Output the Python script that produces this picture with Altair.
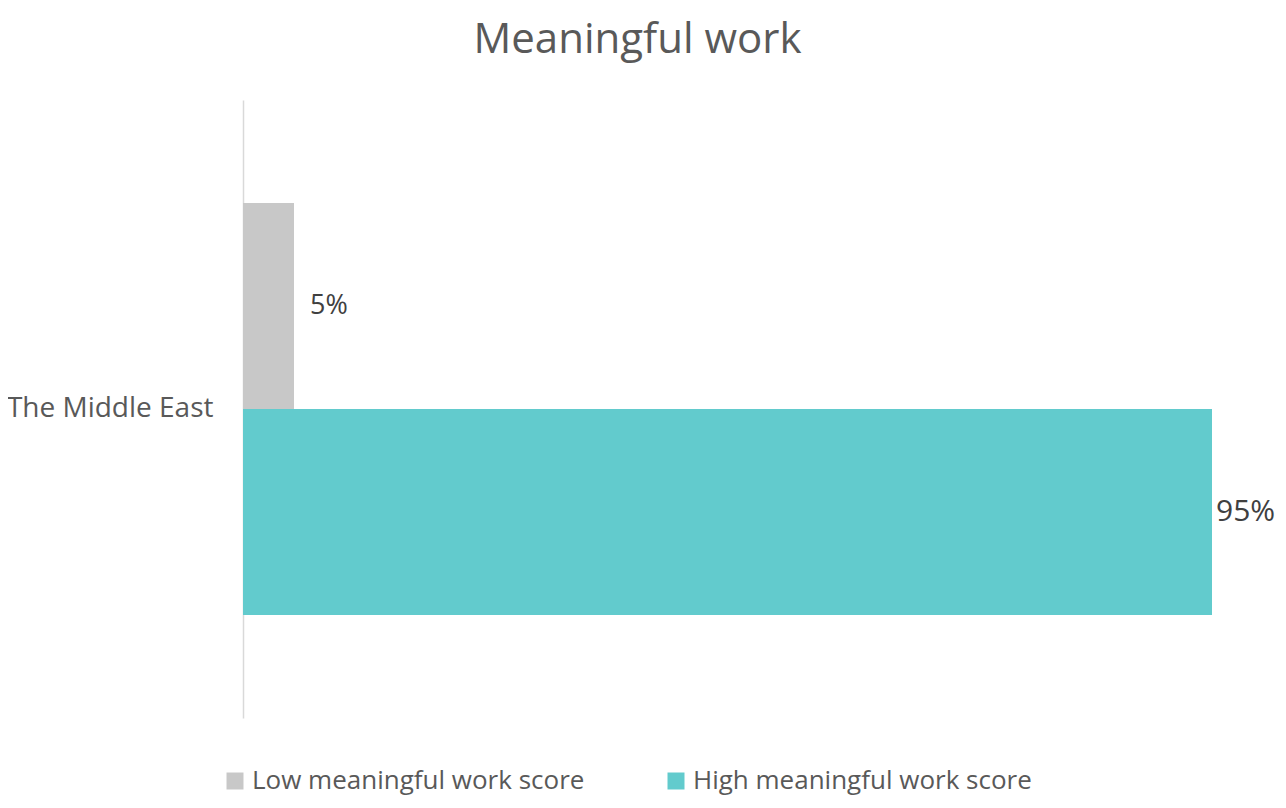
import altair as alt
import pandas as pd

regions = ["The Middle East", "The Middle East"]
series = ["Low meaningful work score", "High meaningful work score"]
values = [5, 95]
labels = ["5%", "95%"]
colors = ["#c8c8c8", "#62cbcd"]

df = pd.DataFrame({"region": regions, "series": series, "value": values,
                   "label": labels})

y = alt.Y("region:N", title=None,
          scale=alt.Scale(paddingInner=0, paddingOuter=0.25),
          axis=alt.Axis(domainColor="#d9d9d9", domainWidth=1.5, ticks=False,
                        labelFontSize=28, labelColor="#595959", labelPadding=30,
                        labelFont="Open Sans", labelFontWeight="normal", grid=False,
                        labelLimit=400))
yoff = alt.YOffset("series:N", sort=series, scale=alt.Scale(paddingInner=0, paddingOuter=0))
x = alt.X("value:Q", scale=alt.Scale(domain=[0, 95]), axis=None)

bars = alt.Chart(df).mark_bar().encode(
    y=y, yOffset=yoff, x=x,
    color=alt.Color("series:N", sort=series,
                    scale=alt.Scale(domain=series, range=colors),
                    legend=alt.Legend(title=None, orient="none", direction="horizontal",
                                      legendX=-21, legendY=668,
                                      symbolType="square", symbolSize=289,
                                      symbolStrokeWidth=0,
                                      labelFontSize=26, labelColor="#595959",
                                      labelFont="Open Sans", labelLimit=600,
                                      columnPadding=78, symbolOffset=0)),
)

text_low = alt.Chart(df).transform_filter(alt.datum.value < 50).mark_text(
    align="left", baseline="middle", dx=16, fontSize=27,
    color="#404040", font="Open Sans").encode(
    y=y, yOffset=yoff, x=x, text="label:N")

text_high = alt.Chart(df).transform_filter(alt.datum.value >= 50).mark_text(
    align="left", baseline="middle", dx=4, fontSize=30,
    color="#404040", font="Open Sans").encode(
    y=y, yOffset=yoff, x=x, text="label:N")

chart = (bars + text_low + text_high).properties(
    width=969, height=618,
    title=alt.TitleParams("Meaningful work", fontSize=42, color="#595959",
                          font="Open Sans", fontWeight="normal",
                          dx=-90, offset=38, anchor="middle"),
    autosize=alt.AutoSizeParams(type="none"),
    padding={"left": 235, "top": 92, "right": 66, "bottom": 82},
).configure(background="white").configure_view(strokeWidth=0)

chart.save("out.html", embed_options={"renderer": "svg", "actions": False})
